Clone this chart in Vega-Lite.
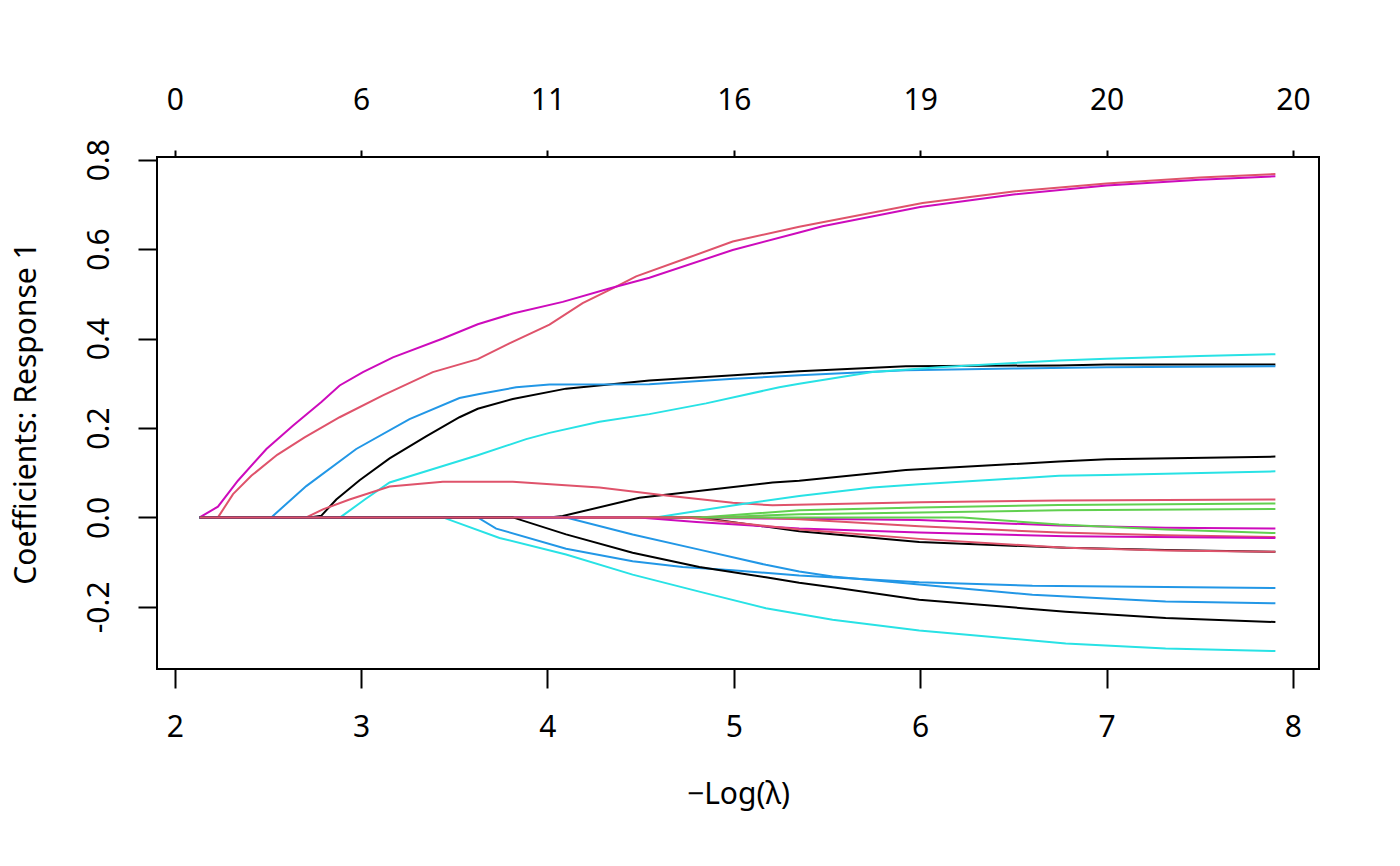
{
  "$schema": "https://vega.github.io/schema/vega-lite/v6.json",
  "autosize": {"type": "none"},
  "padding": {"left": 157, "top": 157, "right": 81, "bottom": 197},
  "width": 1162,
  "height": 512,
  "background": "white",
  "data": {
    "values": [
      {"var": "V01", "neglog": 2.134, "coef": 0},
      {"var": "V01", "neglog": 2.724, "coef": 0},
      {"var": "V01", "neglog": 2.787, "coef": 0.004},
      {"var": "V01", "neglog": 2.867, "coef": 0.040},
      {"var": "V01", "neglog": 2.992, "coef": 0.083},
      {"var": "V01", "neglog": 3.153, "coef": 0.132},
      {"var": "V01", "neglog": 3.349, "coef": 0.181},
      {"var": "V01", "neglog": 3.528, "coef": 0.224},
      {"var": "V01", "neglog": 3.626, "coef": 0.243},
      {"var": "V01", "neglog": 3.814, "coef": 0.265},
      {"var": "V01", "neglog": 4.100, "coef": 0.288},
      {"var": "V01", "neglog": 4.547, "coef": 0.306},
      {"var": "V01", "neglog": 5.000, "coef": 0.318},
      {"var": "V01", "neglog": 5.351, "coef": 0.327},
      {"var": "V01", "neglog": 5.923, "coef": 0.338},
      {"var": "V01", "neglog": 6.745, "coef": 0.340},
      {"var": "V01", "neglog": 7.000, "coef": 0.342},
      {"var": "V01", "neglog": 7.906, "coef": 0.342},

      {"var": "V02", "neglog": 2.134, "coef": 0},
      {"var": "V02", "neglog": 2.232, "coef": 0},
      {"var": "V02", "neglog": 2.313, "coef": 0.052},
      {"var": "V02", "neglog": 2.411, "coef": 0.093},
      {"var": "V02", "neglog": 2.550, "coef": 0.140},
      {"var": "V02", "neglog": 2.697, "coef": 0.179},
      {"var": "V02", "neglog": 2.885, "coef": 0.224},
      {"var": "V02", "neglog": 3.117, "coef": 0.273},
      {"var": "V02", "neglog": 3.385, "coef": 0.325},
      {"var": "V02", "neglog": 3.626, "coef": 0.354},
      {"var": "V02", "neglog": 3.796, "coef": 0.389},
      {"var": "V02", "neglog": 4.011, "coef": 0.431},
      {"var": "V02", "neglog": 4.189, "coef": 0.479},
      {"var": "V02", "neglog": 4.350, "coef": 0.512},
      {"var": "V02", "neglog": 4.476, "coef": 0.539},
      {"var": "V02", "neglog": 4.750, "coef": 0.580},
      {"var": "V02", "neglog": 4.994, "coef": 0.617},
      {"var": "V02", "neglog": 5.351, "coef": 0.650},
      {"var": "V02", "neglog": 5.476, "coef": 0.660},
      {"var": "V02", "neglog": 6.013, "coef": 0.703},
      {"var": "V02", "neglog": 6.500, "coef": 0.729},
      {"var": "V02", "neglog": 7.000, "coef": 0.747},
      {"var": "V02", "neglog": 7.500, "coef": 0.760},
      {"var": "V02", "neglog": 7.906, "coef": 0.768},

      {"var": "V03", "neglog": 2.134, "coef": 0},
      {"var": "V03", "neglog": 4.820, "coef": 0},
      {"var": "V03", "neglog": 5.351, "coef": 0.016},
      {"var": "V03", "neglog": 5.995, "coef": 0.022},
      {"var": "V03", "neglog": 6.745, "coef": 0.028},
      {"var": "V03", "neglog": 7.906, "coef": 0.031},

      {"var": "V04", "neglog": 2.134, "coef": 0},
      {"var": "V04", "neglog": 2.518, "coef": 0},
      {"var": "V04", "neglog": 2.706, "coef": 0.070},
      {"var": "V04", "neglog": 2.974, "coef": 0.153},
      {"var": "V04", "neglog": 3.260, "coef": 0.220},
      {"var": "V04", "neglog": 3.528, "coef": 0.267},
      {"var": "V04", "neglog": 3.635, "coef": 0.276},
      {"var": "V04", "neglog": 3.832, "coef": 0.291},
      {"var": "V04", "neglog": 4.011, "coef": 0.297},
      {"var": "V04", "neglog": 4.547, "coef": 0.298},
      {"var": "V04", "neglog": 5.000, "coef": 0.310},
      {"var": "V04", "neglog": 5.351, "coef": 0.318},
      {"var": "V04", "neglog": 5.923, "coef": 0.329},
      {"var": "V04", "neglog": 6.500, "coef": 0.333},
      {"var": "V04", "neglog": 7.000, "coef": 0.336},
      {"var": "V04", "neglog": 7.906, "coef": 0.338},

      {"var": "V05", "neglog": 2.134, "coef": 0},
      {"var": "V05", "neglog": 2.888, "coef": 0},
      {"var": "V05", "neglog": 3.020, "coef": 0.040},
      {"var": "V05", "neglog": 3.153, "coef": 0.078},
      {"var": "V05", "neglog": 3.626, "coef": 0.139},
      {"var": "V05", "neglog": 3.886, "coef": 0.175},
      {"var": "V05", "neglog": 4.011, "coef": 0.189},
      {"var": "V05", "neglog": 4.279, "coef": 0.214},
      {"var": "V05", "neglog": 4.547, "coef": 0.231},
      {"var": "V05", "neglog": 4.851, "coef": 0.255},
      {"var": "V05", "neglog": 5.244, "coef": 0.291},
      {"var": "V05", "neglog": 5.351, "coef": 0.299},
      {"var": "V05", "neglog": 5.744, "coef": 0.325},
      {"var": "V05", "neglog": 6.102, "coef": 0.336},
      {"var": "V05", "neglog": 6.745, "coef": 0.351},
      {"var": "V05", "neglog": 7.000, "coef": 0.355},
      {"var": "V05", "neglog": 7.500, "coef": 0.361},
      {"var": "V05", "neglog": 7.906, "coef": 0.365},

      {"var": "V06", "neglog": 2.134, "coef": 0},
      {"var": "V06", "neglog": 2.232, "coef": 0.024},
      {"var": "V06", "neglog": 2.339, "coef": 0.082},
      {"var": "V06", "neglog": 2.492, "coef": 0.153},
      {"var": "V06", "neglog": 2.634, "coef": 0.205},
      {"var": "V06", "neglog": 2.787, "coef": 0.258},
      {"var": "V06", "neglog": 2.885, "coef": 0.295},
      {"var": "V06", "neglog": 3.010, "coef": 0.325},
      {"var": "V06", "neglog": 3.171, "coef": 0.358},
      {"var": "V06", "neglog": 3.439, "coef": 0.400},
      {"var": "V06", "neglog": 3.626, "coef": 0.432},
      {"var": "V06", "neglog": 3.814, "coef": 0.456},
      {"var": "V06", "neglog": 4.082, "coef": 0.482},
      {"var": "V06", "neglog": 4.332, "coef": 0.512},
      {"var": "V06", "neglog": 4.547, "coef": 0.536},
      {"var": "V06", "neglog": 4.994, "coef": 0.598},
      {"var": "V06", "neglog": 5.351, "coef": 0.637},
      {"var": "V06", "neglog": 5.476, "coef": 0.651},
      {"var": "V06", "neglog": 6.000, "coef": 0.694},
      {"var": "V06", "neglog": 6.500, "coef": 0.722},
      {"var": "V06", "neglog": 7.000, "coef": 0.742},
      {"var": "V06", "neglog": 7.500, "coef": 0.755},
      {"var": "V06", "neglog": 7.906, "coef": 0.763},

      {"var": "V07", "neglog": 2.134, "coef": 0},
      {"var": "V07", "neglog": 4.011, "coef": 0},
      {"var": "V07", "neglog": 4.082, "coef": 0.003},
      {"var": "V07", "neglog": 4.493, "coef": 0.044},
      {"var": "V07", "neglog": 5.208, "coef": 0.078},
      {"var": "V07", "neglog": 5.351, "coef": 0.082},
      {"var": "V07", "neglog": 5.923, "coef": 0.106},
      {"var": "V07", "neglog": 6.745, "coef": 0.125},
      {"var": "V07", "neglog": 7.000, "coef": 0.130},
      {"var": "V07", "neglog": 7.906, "coef": 0.136},

      {"var": "V08", "neglog": 2.134, "coef": 0},
      {"var": "V08", "neglog": 2.706, "coef": 0},
      {"var": "V08", "neglog": 2.795, "coef": 0.018},
      {"var": "V08", "neglog": 2.938, "coef": 0.040},
      {"var": "V08", "neglog": 3.153, "coef": 0.069},
      {"var": "V08", "neglog": 3.439, "coef": 0.080},
      {"var": "V08", "neglog": 3.814, "coef": 0.080},
      {"var": "V08", "neglog": 4.279, "coef": 0.067},
      {"var": "V08", "neglog": 4.636, "coef": 0.049},
      {"var": "V08", "neglog": 4.994, "coef": 0.033},
      {"var": "V08", "neglog": 5.208, "coef": 0.027},
      {"var": "V08", "neglog": 5.995, "coef": 0.034},
      {"var": "V08", "neglog": 6.745, "coef": 0.038},
      {"var": "V08", "neglog": 7.906, "coef": 0.040},

      {"var": "V09", "neglog": 2.134, "coef": 0},
      {"var": "V09", "neglog": 4.870, "coef": 0},
      {"var": "V09", "neglog": 5.351, "coef": 0.007},
      {"var": "V09", "neglog": 5.995, "coef": 0.011},
      {"var": "V09", "neglog": 6.745, "coef": 0.016},
      {"var": "V09", "neglog": 7.906, "coef": 0.019},

      {"var": "V10", "neglog": 2.134, "coef": 0},
      {"var": "V10", "neglog": 3.626, "coef": 0},
      {"var": "V10", "neglog": 3.725, "coef": -0.025},
      {"var": "V10", "neglog": 4.100, "coef": -0.070},
      {"var": "V10", "neglog": 4.457, "coef": -0.098},
      {"var": "V10", "neglog": 4.725, "coef": -0.111},
      {"var": "V10", "neglog": 4.994, "coef": -0.118},
      {"var": "V10", "neglog": 5.351, "coef": -0.130},
      {"var": "V10", "neglog": 5.995, "coef": -0.145},
      {"var": "V10", "neglog": 6.602, "coef": -0.153},
      {"var": "V10", "neglog": 7.906, "coef": -0.158},

      {"var": "V11", "neglog": 2.134, "coef": 0},
      {"var": "V11", "neglog": 4.580, "coef": 0},
      {"var": "V11", "neglog": 5.029, "coef": 0.029},
      {"var": "V11", "neglog": 5.351, "coef": 0.048},
      {"var": "V11", "neglog": 5.744, "coef": 0.067},
      {"var": "V11", "neglog": 5.995, "coef": 0.074},
      {"var": "V11", "neglog": 6.745, "coef": 0.093},
      {"var": "V11", "neglog": 7.000, "coef": 0.095},
      {"var": "V11", "neglog": 7.906, "coef": 0.103},

      {"var": "V12", "neglog": 2.134, "coef": 0},
      {"var": "V12", "neglog": 4.460, "coef": 0},
      {"var": "V12", "neglog": 5.351, "coef": -0.003},
      {"var": "V12", "neglog": 5.995, "coef": -0.006},
      {"var": "V12", "neglog": 6.745, "coef": -0.018},
      {"var": "V12", "neglog": 7.317, "coef": -0.023},
      {"var": "V12", "neglog": 7.906, "coef": -0.025},

      {"var": "V13", "neglog": 2.134, "coef": 0},
      {"var": "V13", "neglog": 4.815, "coef": 0},
      {"var": "V13", "neglog": 5.351, "coef": -0.031},
      {"var": "V13", "neglog": 5.995, "coef": -0.055},
      {"var": "V13", "neglog": 6.781, "coef": -0.068},
      {"var": "V13", "neglog": 7.317, "coef": -0.073},
      {"var": "V13", "neglog": 7.906, "coef": -0.077},

      {"var": "V14", "neglog": 2.134, "coef": 0},
      {"var": "V14", "neglog": 5.150, "coef": 0},
      {"var": "V14", "neglog": 5.351, "coef": -0.004},
      {"var": "V14", "neglog": 5.995, "coef": -0.020},
      {"var": "V14", "neglog": 6.745, "coef": -0.034},
      {"var": "V14", "neglog": 7.317, "coef": -0.040},
      {"var": "V14", "neglog": 7.906, "coef": -0.044},

      {"var": "V15", "neglog": 2.134, "coef": 0},
      {"var": "V15", "neglog": 6.227, "coef": 0},
      {"var": "V15", "neglog": 6.745, "coef": -0.016},
      {"var": "V15", "neglog": 7.317, "coef": -0.027},
      {"var": "V15", "neglog": 7.906, "coef": -0.035},

      {"var": "V16", "neglog": 2.134, "coef": 0},
      {"var": "V16", "neglog": 4.100, "coef": 0},
      {"var": "V16", "neglog": 4.457, "coef": -0.038},
      {"var": "V16", "neglog": 4.815, "coef": -0.072},
      {"var": "V16", "neglog": 5.172, "coef": -0.106},
      {"var": "V16", "neglog": 5.351, "coef": -0.121},
      {"var": "V16", "neglog": 5.530, "coef": -0.132},
      {"var": "V16", "neglog": 5.995, "coef": -0.150},
      {"var": "V16", "neglog": 6.602, "coef": -0.173},
      {"var": "V16", "neglog": 7.317, "coef": -0.188},
      {"var": "V16", "neglog": 7.906, "coef": -0.192},

      {"var": "V17", "neglog": 2.134, "coef": 0},
      {"var": "V17", "neglog": 3.439, "coef": 0},
      {"var": "V17", "neglog": 3.743, "coef": -0.046},
      {"var": "V17", "neglog": 4.100, "coef": -0.083},
      {"var": "V17", "neglog": 4.457, "coef": -0.128},
      {"var": "V17", "neglog": 4.815, "coef": -0.166},
      {"var": "V17", "neglog": 5.172, "coef": -0.203},
      {"var": "V17", "neglog": 5.530, "coef": -0.229},
      {"var": "V17", "neglog": 5.995, "coef": -0.253},
      {"var": "V17", "neglog": 6.781, "coef": -0.282},
      {"var": "V17", "neglog": 7.317, "coef": -0.293},
      {"var": "V17", "neglog": 7.906, "coef": -0.299},

      {"var": "V18", "neglog": 2.134, "coef": 0},
      {"var": "V18", "neglog": 4.490, "coef": 0},
      {"var": "V18", "neglog": 4.800, "coef": -0.010},
      {"var": "V18", "neglog": 5.351, "coef": -0.025},
      {"var": "V18", "neglog": 5.995, "coef": -0.034},
      {"var": "V18", "neglog": 6.781, "coef": -0.042},
      {"var": "V18", "neglog": 7.906, "coef": -0.046},

      {"var": "V19", "neglog": 2.134, "coef": 0},
      {"var": "V19", "neglog": 3.814, "coef": 0},
      {"var": "V19", "neglog": 4.100, "coef": -0.038},
      {"var": "V19", "neglog": 4.457, "coef": -0.079},
      {"var": "V19", "neglog": 4.815, "coef": -0.111},
      {"var": "V19", "neglog": 5.172, "coef": -0.134},
      {"var": "V19", "neglog": 5.351, "coef": -0.146},
      {"var": "V19", "neglog": 5.530, "coef": -0.156},
      {"var": "V19", "neglog": 5.995, "coef": -0.184},
      {"var": "V19", "neglog": 6.781, "coef": -0.211},
      {"var": "V19", "neglog": 7.317, "coef": -0.225},
      {"var": "V19", "neglog": 7.906, "coef": -0.234},

      {"var": "V20", "neglog": 2.134, "coef": 0},
      {"var": "V20", "neglog": 4.750, "coef": 0},
      {"var": "V20", "neglog": 5.351, "coef": -0.027},
      {"var": "V20", "neglog": 5.995, "coef": -0.048},
      {"var": "V20", "neglog": 6.781, "coef": -0.068},
      {"var": "V20", "neglog": 7.317, "coef": -0.074},
      {"var": "V20", "neglog": 7.906, "coef": -0.077}
    ]
  },
  "layer": [
    {
      "mark": {"type": "line", "strokeWidth": 2},
      "encoding": {
        "x": {
          "field": "neglog",
          "type": "quantitative",
          "scale": {"domain": [1.905, 8.14], "nice": false, "zero": false},
          "axis": {
            "orient": "bottom",
            "values": [2, 3, 4, 5, 6, 7, 8],
            "title": "−Log(λ)",
            "tickSize": 19,
            "labelPadding": 39,
            "labelBaseline": "middle",
            "titlePadding": 37
          }
        },
        "y": {
          "field": "coef",
          "type": "quantitative",
          "scale": {"domain": [-0.339, 0.806], "nice": false, "zero": false},
          "axis": {
            "values": [-0.2, 0, 0.2, 0.4, 0.6, 0.8],
            "format": ".1f",
            "labelExpr": "replace(datum.label, '−', '-')",
            "title": "Coefficients: Response 1",
            "tickSize": 19,
            "labelAngle": -90,
            "labelAlign": "center",
            "labelBaseline": "middle",
            "labelPadding": 39,
            "titlePadding": 43
          }
        },
        "color": {
          "field": "var",
          "type": "nominal",
          "legend": null,
          "scale": {
            "domain": ["V01", "V02", "V03", "V04", "V05", "V06", "V07", "V08", "V09", "V10",
                       "V11", "V12", "V13", "V14", "V15", "V16", "V17", "V18", "V19", "V20"],
            "range": ["#000000", "#DF536B", "#61D04F", "#2297E6", "#28E2E5", "#CD0BBC",
                      "#000000", "#DF536B", "#61D04F", "#2297E6", "#28E2E5", "#CD0BBC",
                      "#000000", "#DF536B", "#61D04F", "#2297E6", "#28E2E5", "#CD0BBC",
                      "#000000", "#DF536B"]
          }
        },
        "order": {"field": "neglog", "type": "quantitative"}
      }
    },
    {
      "mark": {"type": "point", "opacity": 0},
      "encoding": {
        "x": {
          "field": "neglog",
          "type": "quantitative",
          "axis": {
            "orient": "top",
            "values": [2, 3, 4, 5, 6, 7, 8],
            "labelExpr": "{'2': '0', '3': '6', '4': '11', '5': '16', '6': '19', '7': '20', '8': '20'}[datum.label]",
            "title": null,
            "tickSize": 7,
            "labelPadding": 50,
            "labelBaseline": "middle"
          }
        },
        "y": {"field": "coef", "type": "quantitative"}
      }
    }
  ],
  "resolve": {"axis": {"x": "independent"}},
  "config": {
    "font": "Noto Sans",
    "view": {"stroke": "#000000", "strokeWidth": 2},
    "axis": {
      "domain": false,
      "grid": false,
      "tickColor": "#000000",
      "tickWidth": 2,
      "labelColor": "#000000",
      "labelFont": "Noto Sans",
      "labelFontSize": 30,
      "titleFont": "Noto Sans",
      "titleFontSize": 30,
      "titleFontWeight": "normal",
      "titleColor": "#000000",
      "labelFlush": false,
      "labelOverlap": false
    }
  }
}
